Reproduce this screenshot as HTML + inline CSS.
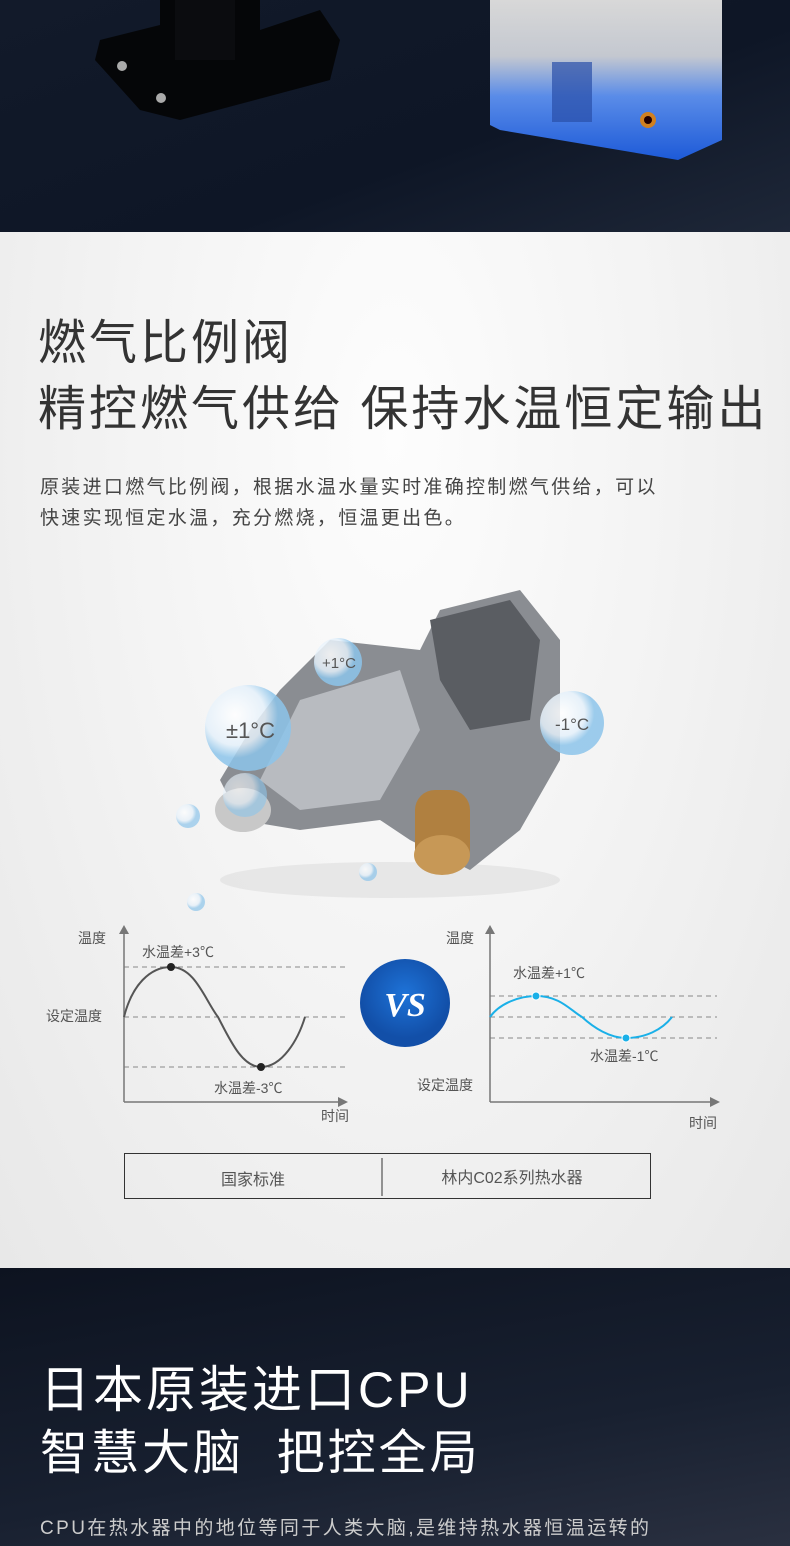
<!DOCTYPE html>
<html><head><meta charset="utf-8"><style>
*{margin:0;padding:0;box-sizing:border-box}
body{width:790px;height:1546px;overflow:hidden;font-family:"Liberation Sans","Noto Sans CJK SC",sans-serif;background:#eee}
.abs{position:absolute}
</style></head><body>
<div class="abs" style="left:0;top:0;width:790px;height:232px;background:linear-gradient(160deg,#121a2a 0%,#0e1626 60%,#1e2738 100%);overflow:hidden">
 <svg width="790" height="232" class="abs" style="left:0;top:0">
  <defs>
   <linearGradient id="wh" x1="0" y1="0" x2="0" y2="1"><stop offset="0" stop-color="#d8d8d8"/><stop offset="0.35" stop-color="#c4c8d0"/><stop offset="0.6" stop-color="#5a8ce8"/><stop offset="1" stop-color="#1d5ad8"/></linearGradient>
  </defs>
  <path d="M160 0 H260 V30 L320 10 L340 40 L330 80 L180 120 L140 110 L95 60 L100 40 L160 25Z" fill="#050608"/>
  <rect x="175" y="0" width="60" height="60" fill="#0b0c0f"/>
  <circle cx="122" cy="66" r="5" fill="#aaa"/><circle cx="161" cy="98" r="5" fill="#aaa"/>
  <path d="M490 0 H722 V140 L678 160 L500 130 L490 125Z" fill="url(#wh)"/>
  <rect x="552" y="62" width="40" height="60" fill="#2a4fa8" opacity="0.7"/>
  <circle cx="648" cy="120" r="8" fill="#d08020"/><circle cx="648" cy="120" r="4" fill="#200"/>
 </svg>
</div>
<div class="abs" style="left:0;top:232px;width:790px;height:1036px;background:radial-gradient(ellipse at 50% 20%,#fdfdfd 0%,#f3f3f3 50%,#e8e8e8 100%)"></div>
<div class="abs" style="left:38px;top:316px;font-size:48px;color:#333;line-height:56px;letter-spacing:3px">燃气比例阀</div>
<div class="abs" style="left:38px;top:382px;font-size:48px;color:#333;line-height:56px;letter-spacing:3px;white-space:nowrap">精控燃气供给 保持水温恒定输出</div>
<div class="abs" style="left:40px;top:472px;font-size:19px;color:#444;line-height:31px;width:720px;letter-spacing:2.3px;white-space:nowrap">原装进口燃气比例阀，根据水温水量实时准确控制燃气供给，可以<br>快速实现恒定水温，充分燃烧，恒温更出色。</div>
<svg class="abs" style="left:0;top:580px" width="790" height="340">
 <defs><radialGradient id="bub" cx="0.35" cy="0.35"><stop offset="0" stop-color="#fff"/><stop offset="0.7" stop-color="#e4f0fa"/><stop offset="1" stop-color="#8cc4ea"/></radialGradient></defs>
 <ellipse cx="390" cy="300" rx="170" ry="18" fill="#ddd" opacity="0.6"/>
 <path d="M280 110 L330 60 L420 70 L440 30 L520 10 L560 60 L560 180 L520 250 L470 290 L410 260 L380 240 L300 250 L240 240 L220 200 L250 150Z" fill="#8a8d92"/>
 <path d="M300 120 L400 90 L420 150 L380 220 L300 230 L260 200Z" fill="#b8bbc0"/>
 <path d="M430 40 L510 20 L540 60 L530 140 L470 150 L440 100Z" fill="#5a5d62"/>
 <rect x="415" y="210" width="55" height="80" rx="20" fill="#b08040"/>
 <ellipse cx="442" cy="275" rx="28" ry="20" fill="#c79856"/>
 <ellipse cx="243" cy="230" rx="28" ry="22" fill="#c8c8c8"/>
 <circle cx="248" cy="148" r="43" fill="url(#bub)" opacity="0.85"/>
 <circle cx="338" cy="82" r="24" fill="url(#bub)" opacity="0.85"/>
 <circle cx="572" cy="143" r="32" fill="url(#bub)" opacity="0.85"/>
 <circle cx="245" cy="215" r="22" fill="url(#bub)" opacity="0.6"/>
 <circle cx="188" cy="236" r="12" fill="url(#bub)" opacity="0.7"/>
 <circle cx="196" cy="322" r="9" fill="url(#bub)" opacity="0.7"/>
 <circle cx="368" cy="292" r="9" fill="url(#bub)" opacity="0.7"/>
 <text x="226" y="158" font-size="22" fill="#555" font-family="Liberation Sans,sans-serif">±1°C</text>
 <text x="322" y="88" font-size="15" fill="#555" font-family="Liberation Sans,sans-serif">+1°C</text>
 <text x="555" y="150" font-size="17" fill="#555" font-family="Liberation Sans,sans-serif">-1°C</text>
</svg>
<svg class="abs" style="left:0;top:0" width="790" height="1268" font-family="Liberation Sans,Noto Sans CJK SC,sans-serif" font-size="14" fill="#555">
 <defs><radialGradient id="vs" cx="0.5" cy="0.4"><stop offset="0" stop-color="#1e73d8"/><stop offset="1" stop-color="#124fa8"/></radialGradient></defs>
 <g stroke="#888" stroke-width="1" stroke-dasharray="5,4">
  <line x1="124" y1="967" x2="345" y2="967"/><line x1="124" y1="1017" x2="345" y2="1017"/><line x1="124" y1="1067" x2="345" y2="1067"/>
  <line x1="490" y1="996" x2="717" y2="996"/><line x1="490" y1="1017" x2="717" y2="1017"/><line x1="490" y1="1038" x2="717" y2="1038"/>
 </g>
 <g stroke="#777" stroke-width="1.5" fill="none">
  <line x1="124" y1="1102" x2="124" y2="932"/><line x1="124" y1="1102" x2="340" y2="1102"/>
  <line x1="490" y1="1102" x2="490" y2="932"/><line x1="490" y1="1102" x2="712" y2="1102"/>
 </g>
 <g fill="#777"><path d="M119 934 L124 925 L129 934Z"/><path d="M338 1097 L348 1102 L338 1107Z"/><path d="M485 934 L490 925 L495 934Z"/><path d="M710 1097 L720 1102 L710 1107Z"/></g>
 <path d="M124 1017 C132 985,150 967,171 967 C195 967,205 1000,218 1017 C230 1040,242 1067,261 1067 C282 1067,298 1040,305 1017" stroke="#555" stroke-width="2" fill="none"/>
 <circle cx="171" cy="967" r="4" fill="#222"/><circle cx="261" cy="1067" r="4" fill="#222"/>
 <path d="M490 1017 C500 1003,520 996,536 996 C560 996,570 1010,582 1017 C594 1028,610 1038,626 1038 C645 1038,662 1030,672 1017" stroke="#1ab0e8" stroke-width="2" fill="none"/>
 <circle cx="536" cy="996" r="4" fill="#1ab0e8" stroke="#fff"/><circle cx="626" cy="1038" r="4" fill="#1ab0e8" stroke="#fff"/>
 <text x="78" y="943">温度</text><text x="142" y="957">水温差+3℃</text><text x="46" y="1021">设定温度</text>
 <text x="214" y="1093">水温差-3℃</text><text x="321" y="1121">时间</text>
 <text x="446" y="943">温度</text><text x="513" y="978">水温差+1℃</text><text x="590" y="1061">水温差-1℃</text>
 <text x="417" y="1090">设定温度</text><text x="689" y="1128">时间</text>
 <ellipse cx="405" cy="1003" rx="45" ry="44" fill="url(#vs)"/>
 <text x="405" y="1016" text-anchor="middle" font-family="Liberation Serif,serif" font-style="italic" font-weight="bold" font-size="34" fill="#fff">VS</text>
 <rect x="124.5" y="1153.5" width="526" height="45" fill="none" stroke="#333" stroke-width="1"/>
 <line x1="382" y1="1158" x2="382" y2="1196" stroke="#333"/>
 <text x="253" y="1185" text-anchor="middle" font-size="16">国家标准</text>
 <text x="512" y="1183" text-anchor="middle" font-size="16">林内C02系列热水器</text>
</svg>
<div class="abs" style="left:0;top:1268px;width:790px;height:278px;background:linear-gradient(170deg,#0d1320 0%,#182030 60%,#2a3040 100%)"></div>
<div class="abs" style="left:40px;top:1360px;font-size:50px;color:#fff;line-height:60px;white-space:nowrap;letter-spacing:3px">日本原装进口CPU</div>
<div class="abs" style="left:40px;top:1425px;font-size:48px;color:#fff;line-height:58px;white-space:pre;letter-spacing:3px">智慧大脑  把控全局</div>
<div class="abs" style="left:40px;top:1515px;font-size:19px;color:#ccc;line-height:28px;white-space:nowrap;letter-spacing:2.4px">CPU在热水器中的地位等同于人类大脑,是维持热水器恒温运转的</div>
</body></html>
